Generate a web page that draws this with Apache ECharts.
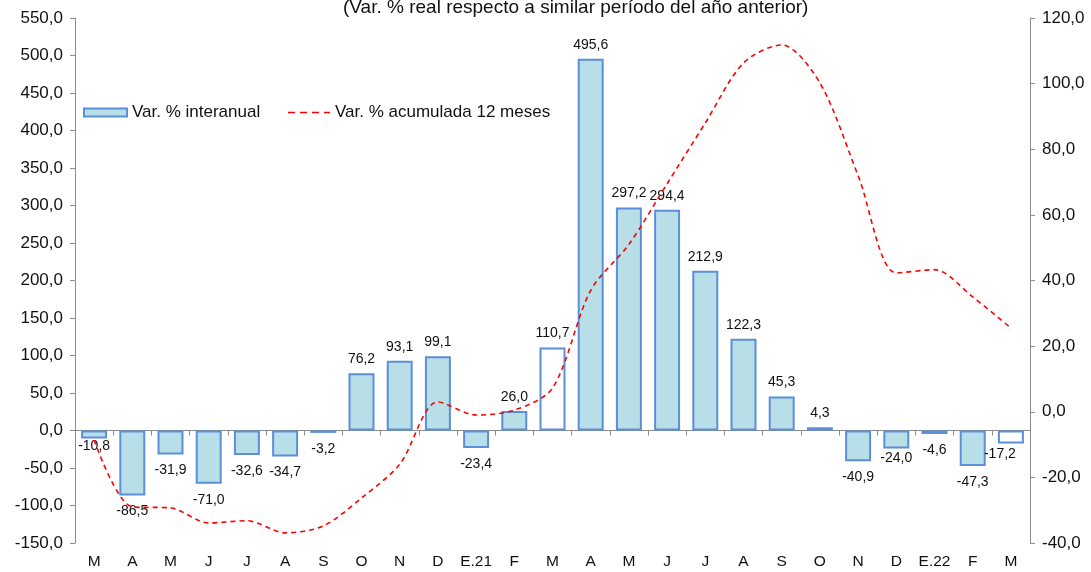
<!DOCTYPE html>
<html><head><meta charset="utf-8">
<script src="https://cdn.jsdelivr.net/npm/echarts@6/dist/echarts.min.js"></script>
<style>html,body{margin:0;padding:0;background:#fff}#c{width:1091px;height:572px}</style>
</head><body><div id="c"></div>
<script>
const categories = ['M','A','M','J','J','A','S','O','N','D','E.21','F','M','A','M','J','J','A','S','O','N','D','E.22','F','M'];
const interanual = [-10.8,-86.5,-31.9,-71.0,-32.6,-34.7,-3.2,76.2,93.1,99.1,-23.4,26.0,110.7,495.6,297.2,294.4,212.9,122.3,45.3,4.3,-40.9,-24.0,-4.6,-47.3,-17.2];
const acumulada = [-8.6,-29.0,-29.3,-33.9,-33.2,-36.9,-34.8,-26.3,-16.0,3.0,-1.0,0.5,7.2,37.0,51.0,69.5,88.0,106.3,111.8,100.2,72.0,42.3,43.3,35.0,25.5];
const hollow = [12, 24];
const leftTicks = {min:-150, max:550, interval:50};
const rightTicks = {min:-40, max:120, interval:20};
const titleText = '(Var. % real respecto a similar período del año anterior)';

const fmt = v => Number(v).toFixed(1).replace('.', ',');
const FONT = 'Liberation Sans, Arial, sans-serif';
const labelTweaks = {0:{distance:1}, 21:{distance:3}, 24:{position:'bottom', distance:4, offset:[-11,0]}};

const barData = interanual.map((v,i) => {
  const o = {value:v, label:{position: v>=0?'top':'bottom', distance: v>=0?7:9}};
  if (labelTweaks[i]) Object.assign(o.label, labelTweaks[i]);
  if (hollow.includes(i)) o.itemStyle = {color:'#ffffff'};
  return o;
});

const chart = echarts.init(document.getElementById('c'), null, {renderer:'canvas'});
chart.setOption({
  animation:false,
  textStyle:{fontFamily:FONT},
  title:{text:titleText, left:338, top:-7, textStyle:{fontFamily:FONT, fontSize:19, fontWeight:'normal', color:'#111'}},
  legend:[
    {left:83, top:104, padding:0, itemWidth:43, itemHeight:8,
     textStyle:{fontFamily:FONT, fontSize:17, color:'#111'},
     data:[{name:'Var. % interanual', icon:'rect'}]},
    {left:288, top:104, padding:0, itemWidth:42, itemHeight:2,
     textStyle:{fontFamily:FONT, fontSize:17, color:'#111'},
     data:[{name:'Var. % acumulada 12 meses',
            icon:'path://M0,0h7v1.6h-7z M12,0h7v1.6h-7z M24,0h7v1.6h-7z M36,0h6v1.6h-6z'}]}
  ],
  grid:{left:75, right:61, top:18, bottom:29},
  xAxis:[
    {type:'category', data:categories, position:'bottom',
     axisLine:{onZero:true, lineStyle:{color:'#8c8c8c', width:1}},
     axisTick:{show:true, length:5, lineStyle:{color:'#8c8c8c'}},
     axisLabel:{show:false}},
    {type:'category', data:categories, position:'bottom',
     axisLine:{show:false, onZero:false}, axisTick:{show:false},
     axisLabel:{margin:11, fontFamily:FONT, fontSize:15.5, color:'#111', interval:0}}
  ],
  yAxis:[
    {type:'value', min:leftTicks.min, max:leftTicks.max, interval:leftTicks.interval,
     splitLine:{show:false},
     axisLine:{show:true, lineStyle:{color:'#8c8c8c'}},
     axisTick:{show:true, length:5, lineStyle:{color:'#8c8c8c'}},
     axisLabel:{formatter:fmt, margin:12, fontFamily:FONT, fontSize:17, color:'#111'}},
    {type:'value', min:rightTicks.min, max:rightTicks.max, interval:rightTicks.interval,
     position:'right', splitLine:{show:false},
     axisLine:{show:true, lineStyle:{color:'#8c8c8c'}},
     axisTick:{show:true, length:5, lineStyle:{color:'#8c8c8c'}},
     axisLabel:{formatter:fmt, margin:12, fontFamily:FONT, fontSize:17, color:'#111'}}
  ],
  series:[
    {name:'Var. % interanual', type:'bar', xAxisIndex:0, yAxisIndex:0, barWidth:'68%',
     data:barData,
     itemStyle:{color:'#b8dee8', borderColor:'#5b8fd8', borderWidth:2},
     label:{show:true, formatter:p=>fmt(p.value), fontFamily:FONT, fontSize:14, color:'#111'}},
    {name:'Var. % acumulada 12 meses', type:'line', xAxisIndex:0, yAxisIndex:1,
     data:acumulada, symbol:'none', smooth:0.3, z:5,
     lineStyle:{color:'#ff0000', width:1.6, type:[5,4]},
     itemStyle:{color:'#ff0000'}}
  ]
});
</script></body></html>
